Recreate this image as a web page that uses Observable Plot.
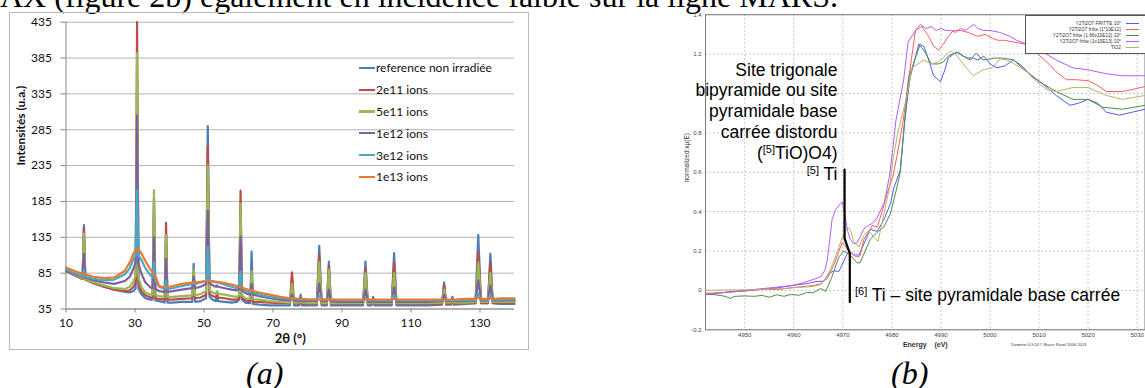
<!DOCTYPE html>
<html><head><meta charset="utf-8">
<script src="https://cdn.jsdelivr.net/npm/d3@7"></script>
<script src="https://cdn.jsdelivr.net/npm/@observablehq/plot@0.6"></script>
<style>
html,body{margin:0;padding:0;background:#fff;}
body{width:1145px;height:388px;overflow:hidden;position:relative;}
.abs{position:absolute;white-space:nowrap;}
#topText{left:0;top:-20px;font:32px/32px "Liberation Serif","Times New Roman",serif;color:#000;}
.cap{font:italic 32px/32px "Liberation Serif","Times New Roman",serif;color:#000;top:357px;}
#frameA{left:9px;top:12px;width:518px;height:336px;border:1px solid #b9b9b9;}
#chartA{left:9px;top:12px;}
#chartB{left:600px;top:0px;}
#legendA{left:359px;top:57px;font:12px "Lato",sans-serif;color:#111;}
#legendA .row{height:21.8px;display:flex;align-items:center;}
#legendA .sw{width:16px;height:2.4px;margin-right:1px;}
#legendB{left:1025px;top:15px;width:126px;height:37px;border:1px solid #555;background:#fff;font:4.8px "Liberation Sans",Arial,sans-serif;color:#333;}
#legendB .row{position:absolute;left:0;width:95px;text-align:right;}
#legendB .sw{position:absolute;left:100px;width:13px;height:1px;}
.ann{font:17.5px/20.8px "Liberation Sans",Arial,sans-serif;color:#000;}
.sup{font-size:11px;position:relative;top:-6px;line-height:0;}
</style></head><body>
<div id="topText" class="abs">AX (figure 2b) également en incidence faible sur la ligne MARS.</div>
<div id="frameA" class="abs"></div>
<div id="chartA" class="abs"></div>
<div id="legendA" class="abs"></div>
<div id="chartB" class="abs"></div>
<div id="legendB" class="abs"></div>
<div class="abs ann" style="right:307.5px;top:59.6px;text-align:right;">Site trigonale<br>bipyramide ou site<br>pyramidale base<br>carrée distordu<br>(<span class="sup">[5]</span>TiO)O4)<br><span class="sup">[5]</span> Ti</div>
<div class="abs ann" style="left:855px;top:285.3px;"><span class="sup">[6]</span> Ti – site pyramidale base carrée</div>
<div class="abs cap" style="left:246px;">(a)</div>
<div class="abs cap" style="left:891px;">(b)</div>
<script>
// ---------- Chart (a): XRD patterns ----------
const xrdSeries = ["reference non irradiée","2e11 ions","5e11 ions","1e12 ions","3e12 ions","1e13 ions"];
const xrdColors = ["#4a7ebb","#be4b48","#98b954","#7d60a0","#46aac5","#e8792f"];
const xrdXTicks = [10,30,50,70,90,110,130];
const xrdYTicks = [35,85,135,185,235,285,335,385,435];
const xrdAngles = [10,12.5,14.8,15.2,15.6,18,21,24,27,28.5,
  29.6,30.2,30.6,31.0,31.8,33,34.5,35.1,35.5,35.9,
  37,38.6,39,39.4,41,43.5,46.6,47,47.4,49,
  50.6,51.1,51.6,52.5,53.5,53.8,54.1,56,58,59.5,
  60.2,60.6,61.0,62,63.4,63.8,64.2,66,69,72,
  74.9,75.5,76.1,77.6,78,78.4,80,82.7,83.4,84.1,
  85.6,86.2,86.8,89,92,96.1,96.8,97.5,98.6,99,
  99.4,102,104.4,105.1,105.8,110,115,119,119.6,120.2,
  121.6,122,122.4,126,128.7,129.5,130.3,132.3,133,133.7,
  136,140];
const refNonIrradiee = [88,82,77,152,76,71,66,62,59,58,
  60,64,290,64,56,50,48,48,190,47,
  46,44,140,44,44,45,45,98,45,46,
  50,290,52,48,46,58,46,45,44,45,
  48,178,48,44,43,115,42,41,40,40,
  40,80,40,40,55,40,40,40,123,40,
  40,101,40,40,40,40,101,40,40,52,
  40,40,40,113,40,40,40,41,72,41,
  41,52,41,42,43,138,43,43,112,43,
  42,42];
const ions2e11 = [88,82,77,148,76,71,66,62,60,61,
  66,72,435,72,60,54,51,50,180,50,
  49,48,155,48,48,49,50,85,50,51,
  55,262,56,53,51,56,51,50,48,48,
  50,200,50,47,46,85,45,45,44,43,
  43,86,43,42,50,42,42,42,110,42,
  42,95,42,42,42,42,92,42,42,48,
  42,42,42,100,42,42,42,42,68,42,
  42,48,42,43,43,115,43,43,100,43,
  43,44];
const ions5e11 = [89,83,78,140,77,72,68,64,63,66,
  74,82,392,80,66,58,55,55,201,54,
  53,52,138,52,52,53,54,90,54,56,
  60,235,61,58,56,60,56,55,53,52,
  54,182,54,50,49,88,49,48,46,45,
  44,70,44,44,48,44,43,43,100,43,
  43,90,43,43,43,43,85,43,43,46,
  43,43,43,85,43,43,43,44,62,44,
  44,46,44,44,45,100,45,45,85,45,
  45,45];
const ions1e12 = [89,84,80,112,79,75,72,70,74,80,
  92,100,305,98,85,72,65,64,135,63,
  60,59,105,59,60,62,64,80,64,66,
  70,172,71,68,66,68,66,64,62,61,
  63,136,62,57,55,70,55,53,50,48,
  47,55,47,46,47,46,46,46,70,46,
  46,62,46,45,45,45,62,45,45,46,
  45,45,45,65,45,45,45,46,55,46,
  46,47,46,46,47,75,47,47,68,47,
  47,47];
const ions3e12 = [90,85,81,90,80,77,75,76,83,92,
  105,110,200,110,104,92,82,79,100,75,
  66,63,75,63,64,67,70,73,70,72,
  74,122,75,73,72,72,72,69,66,64,
  70,88,66,60,58,62,58,55,52,50,
  49,50,49,48,48,48,48,48,54,48,
  48,50,48,47,47,47,50,47,47,47,
  47,47,47,55,47,47,47,47,49,47,
  47,47,47,47,48,57,48,48,55,48,
  48,48];
const ions1e13 = [93,88,84,84,83,80,78,79,88,100,
  113,117,119,119,113,102,90,86,84,81,
  67,65,65,65,67,70,72,72,72,73,
  74,75,74,74,73,73,73,71,69,67,
  66,66,65,63,61,61,60,58,55,52,
  50,50,50,49,49,49,48,48,48,48,
  48,48,48,48,48,48,48,48,48,48,
  48,48,48,49,48,48,48,48,48,48,
  48,48,48,49,49,51,49,49,50,49,
  50,50];
const xrdValues = [refNonIrradiee, ions2e11, ions5e11, ions1e12, ions3e12, ions1e13];
const xrdRows = xrdSeries.flatMap((s, k) => xrdAngles.map((a, i) => ({angle: a, intensity: xrdValues[k][i], series: s})));

const chartA = Plot.plot({
  width: 520, height: 338,
  marginLeft: 56.5, marginRight: 15, marginTop: 9.7, marginBottom: 41.5,
  style: {fontFamily: "Lato, sans-serif", fontSize: "12px", background: "transparent", overflow: "visible"},
  x: {domain: [10, 140]},
  y: {domain: [35, 435]},
  color: {domain: xrdSeries, range: xrdColors},
  marks: [
    Plot.gridY(xrdYTicks, {stroke: "#b3b3b3", strokeOpacity: 1}),
    Plot.ruleX([10], {stroke: "#868686"}),
    Plot.ruleY([35], {stroke: "#868686"}),
    Plot.axisY(xrdYTicks, {tickSize: 5, tickPadding: 9, stroke: "#868686", fill: "#111", fontSize: 12, label: null}),
    Plot.axisX(xrdXTicks, {tickSize: 4, tickPadding: 5, stroke: "#868686", fill: "#111", fontSize: 12, label: null}),
    Plot.line(xrdRows, {x: "angle", y: "intensity", z: "series", stroke: "series", strokeWidth: 2.2, strokeLinejoin: "round"}),
    Plot.text(["Intensités (u.a.)"], {text: d => d, frameAnchor: "left", rotate: -90, dx: -44.5, fontWeight: "bold", fontSize: 12, fill: "#111"}),
    Plot.text(["2θ (°)"], {text: d => d, frameAnchor: "bottom", dy: 33.5, fontWeight: "bold", fontSize: 13, fill: "#111"})
  ]
});
document.getElementById("chartA").appendChild(chartA);

const legA = document.getElementById("legendA");
xrdSeries.forEach((s, k) => {
  const row = document.createElement("div"); row.className = "row";
  const sw = document.createElement("span"); sw.className = "sw"; sw.style.background = xrdColors[k];
  const tx = document.createElement("span"); tx.textContent = s;
  row.appendChild(sw); row.appendChild(tx); legA.appendChild(row);
});

// ---------- Chart (b): XANES Ti K-edge ----------
const xanesSeries = ["Y2Ti2O7 FRITTE 10°","Y2Ti2O7 fritte (1*10E12)","Y2Ti2O7 fritte (1.66x10E12) 10°","Y2Ti2O7 fritte (1x10E13) 10°","TiO2"];
const xanesColors = ["#5858ff","#ff5c5c","#4a8f4a","#b85cf0","#b5b56a"];
const xanesXTicks = [4950,4960,4970,4980,4990,5000,5010,5020,5030];
const xanesYTicks = [-0.2,0,0.2,0.4,0.6,0.8,1,1.2,1.4];
const fritte10 = [[4942,-0.02],[4946,-0.01],[4950,-0.003],[4953,0.005],[4956,0.01],[4959.5,0.025],[4962.8,0.035],[4964.5,0.045],[4966.1,0.047],[4967.1,0.085],[4968.2,0.1],[4969.2,0.096],[4970.2,0.15],[4971.2,0.2],[4972.2,0.18],[4973.3,0.18],[4974.3,0.237],[4975.6,0.31],[4977,0.30],[4978.3,0.355],[4979.7,0.44],[4980.4,0.52],[4981.7,0.61],[4982.6,0.86],[4983.7,1.08],[4985.5,1.25],[4986.5,1.24],[4987.5,1.17],[4988.5,1.09],[4989.9,1.06],[4990.8,1.12],[4991.5,1.18],[4992.6,1.20],[4993.5,1.21],[4994.5,1.19],[4995.5,1.18],[4996.5,1.18],[4997.5,1.17],[4998.7,1.19],[5000,1.15],[5001.4,1.13],[5003,1.14],[5004.8,1.17],[5006.5,1.14],[5008,1.10],[5010.2,1.06],[5013.5,0.99],[5016.3,0.94],[5018,0.95],[5020,0.97],[5022,0.95],[5023.7,0.905],[5026.4,0.89],[5029,0.905],[5031.6,0.92]];
const fritte1e12 = [[4942,-0.015],[4945,-0.012],[4948,-0.005],[4951,0],[4954,0.005],[4957,0.005],[4960,0.015],[4962,0.02],[4964,0.025],[4965.5,0.034],[4966.8,0.06],[4968.2,0.13],[4969.2,0.2],[4969.9,0.245],[4970.9,0.21],[4971.8,0.19],[4972.6,0.17],[4973.5,0.175],[4974.3,0.26],[4975.3,0.3],[4976,0.33],[4977,0.32],[4978,0.4],[4979,0.49],[4980.2,0.58],[4981.1,0.69],[4982.3,0.86],[4983.4,1.07],[4984.8,1.32],[4986.1,1.34],[4987.5,1.29],[4988.5,1.24],[4989.5,1.22],[4990.5,1.25],[4991.5,1.29],[4992.5,1.32],[4994,1.32],[4995.5,1.31],[4997.5,1.29],[4999,1.30],[5000.5,1.28],[5001.6,1.27],[5003,1.27],[5005,1.26],[5007.5,1.25],[5010.2,1.19],[5012,1.15],[5013.5,1.11],[5015.6,1.07],[5017.5,1.07],[5020,1.065],[5022,1.04],[5023.7,1.01],[5027,1.01],[5029,1.02],[5031.6,1.035]];
const fritte166e12 = [[4942,-0.02],[4944,-0.022],[4946,-0.03],[4947,-0.04],[4948,-0.03],[4950,-0.028],[4952,-0.03],[4953.5,-0.025],[4955,-0.035],[4956.5,-0.022],[4958,-0.03],[4959.5,-0.02],[4961,-0.025],[4962.8,-0.01],[4964,-0.012],[4965.5,0.01],[4966.5,-0.005],[4967.8,0.07],[4969.2,0.17],[4970.2,0.2],[4971.5,0.18],[4972.9,0.14],[4973.5,0.14],[4975.6,0.26],[4977,0.295],[4978.3,0.32],[4979.7,0.39],[4981,0.52],[4981.7,0.6],[4982.3,0.77],[4983.4,1.08],[4985.7,1.245],[4987,1.2],[4988,1.15],[4989.5,1.15],[4990.5,1.16],[4991.5,1.19],[4993.2,1.21],[4994.5,1.19],[4996,1.17],[4997.2,1.205],[4998.5,1.17],[5000,1.175],[5001,1.18],[5002.5,1.18],[5004.8,1.17],[5007.5,1.11],[5010,1.06],[5013.5,1.01],[5016.9,0.97],[5020,0.97],[5023,0.93],[5027,0.92],[5031.6,0.94]];
const fritte1e13 = [[4942,-0.02],[4946,-0.01],[4950,0],[4954,0.01],[4958,0.02],[4960,0.025],[4962,0.04],[4964.5,0.06],[4965.5,0.07],[4966.3,0.1],[4966.8,0.15],[4967.3,0.25],[4967.8,0.36],[4968.5,0.41],[4969.2,0.43],[4969.9,0.45],[4970.4,0.38],[4971,0.3],[4971.5,0.26],[4972.2,0.237],[4972.8,0.24],[4973.5,0.27],[4974.2,0.31],[4975.2,0.33],[4976,0.34],[4977,0.37],[4978.5,0.45],[4979.5,0.58],[4980.2,0.72],[4980.8,0.86],[4982.4,1.07],[4983.3,1.26],[4984.8,1.32],[4985.8,1.35],[4987,1.33],[4988,1.34],[4989,1.32],[4990,1.33],[4991,1.32],[4992,1.32],[4993,1.31],[4994,1.33],[4995,1.32],[4996,1.34],[4996.8,1.35],[4997.5,1.33],[4998.7,1.32],[5000,1.32],[5002,1.31],[5004.1,1.29],[5005.4,1.27],[5007.5,1.25],[5010.2,1.22],[5013.5,1.17],[5016.9,1.13],[5020,1.12],[5023.7,1.10],[5027,1.09],[5031.6,1.09]];
const tio2 = [[4942,0],[4946,0.002],[4950,0.003],[4954,0.005],[4958,0.01],[4961,0.015],[4964,0.02],[4965.5,0.03],[4966.8,0.07],[4968.2,0.15],[4969.2,0.22],[4969.9,0.27],[4970.9,0.32],[4971.5,0.31],[4972.2,0.25],[4973.3,0.22],[4974.3,0.28],[4975.3,0.305],[4976.3,0.27],[4977.2,0.25],[4978.3,0.38],[4979.5,0.52],[4980.2,0.66],[4981.2,0.8],[4983.1,0.99],[4984.1,1.13],[4986.5,1.17],[4988,1.15],[4989.5,1.16],[4991.9,1.215],[4993,1.20],[4994.5,1.15],[4996.6,1.09],[4998.5,1.12],[5000.5,1.13],[5002,1.176],[5003.5,1.17],[5005,1.15],[5007.5,1.11],[5009.5,1.06],[5011.5,1.02],[5013.5,1.01],[5016.9,1.03],[5020,1.03],[5023.7,0.99],[5027,0.97],[5031.6,0.99]];
const annotEnergy = [4970.35, 4970.35, 4971.42, 4971.42];
const annotMu = [0.614, 0.264, 0.188, -0.059];

const xanesCurves = [fritte10, fritte1e12, fritte166e12, fritte1e13, tio2];
const xanesRows = xanesSeries.flatMap((s, k) => xanesCurves[k].map(([e, m]) => ({energy: e, mu: m, series: s})));
const annotRows = annotEnergy.map((e, i) => ({energy: e, mu: annotMu[i]}));
const fmtB = d => String(Math.round(d * 10) / 10);

const chartB = Plot.plot({
  width: 545, height: 360,
  marginLeft: 105, marginRight: 0.5, marginTop: 14.2, marginBottom: 30.7,
  style: {fontFamily: "Liberation Sans, Arial, sans-serif", fontSize: "6px", background: "transparent", overflow: "visible"},
  x: {domain: [4942, 5031.6]},
  y: {domain: [-0.2, 1.4]},
  color: {domain: xanesSeries, range: xanesColors},
  marks: [
    Plot.gridX(xanesXTicks, {stroke: "#c8c8c8", strokeOpacity: 1, strokeDasharray: "2,2"}),
    Plot.gridY(xanesYTicks, {stroke: "#c8c8c8", strokeOpacity: 1, strokeDasharray: "2,2"}),
    Plot.frame({stroke: "#777"}),
    Plot.axisX(xanesXTicks, {tickSize: 0, tickPadding: 3, fill: "#444", fontSize: 6, label: null, tickFormat: d => String(d)}),
    Plot.axisY(xanesYTicks, {tickSize: 0, tickPadding: 4, fill: "#444", fontSize: 6, label: null, tickFormat: fmtB}),
    Plot.line(xanesRows, {x: "energy", y: "mu", z: "series", stroke: "series", strokeWidth: 1}),
    Plot.line(annotRows, {x: "energy", y: "mu", stroke: "#000", strokeWidth: 2.2}),
    Plot.text(["normalized xμ(E)"], {text: d => d, frameAnchor: "left", rotate: -90, dx: -19, dy: 10, fontSize: 6.5, fill: "#333"}),
    Plot.text(["Energy\u00a0\u00a0\u00a0\u00a0(eV)"], {text: d => d, frameAnchor: "bottom", dy: 17.5, fontSize: 7, fontWeight: "bold", fill: "#333"}),
    Plot.text(["Demeter 0.9.14 © Bruce Ravel 2006-2013"], {text: d => d, frameAnchor: "bottom", dx: 123.5, dy: 15.7, fontSize: 4, fill: "#333"})
  ]
});
document.getElementById("chartB").appendChild(chartB);

const legB = document.getElementById("legendB");
xanesSeries.forEach((s, k) => {
  const tx = document.createElement("div"); tx.className = "row"; tx.textContent = s;
  tx.style.top = (4.5 + k * 6) + "px";
  const sw = document.createElement("div"); sw.className = "sw"; sw.style.background = xanesColors[k];
  sw.style.top = (7.2 + k * 6) + "px";
  legB.appendChild(tx); legB.appendChild(sw);
});
</script>
</body></html>
